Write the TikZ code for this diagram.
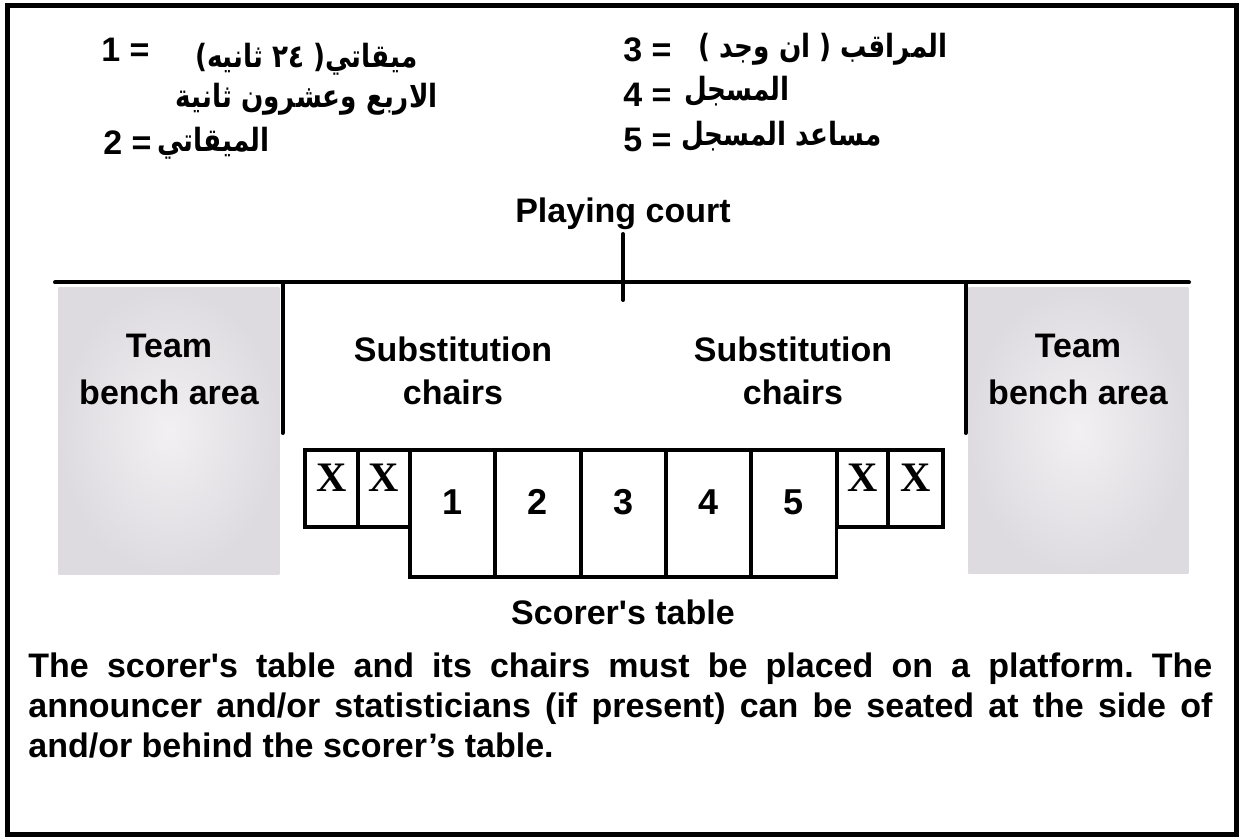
\documentclass[tikz,border=0pt]{standalone}
\usepackage{fontspec}
\setmainfont{Liberation Sans}
\newfontfamily\arabicfont[Script=Arabic,FakeStretch=0.82]{DejaVu Sans}
\newfontfamily\xserif{Liberation Serif}
\TeXXeTstate=1
\definecolor{benchout}{RGB}{222,219,224}
\definecolor{benchin}{RGB}{242,240,243}
\begin{document}
\begin{tikzpicture}[x=0.5pt,y=-0.5pt,
  lbl/.style={font=\fontsize{17}{20}\selectfont\bfseries, inner sep=0pt, anchor=base},
  legnum/.style={font=\fontsize{17}{20}\selectfont\bfseries, inner sep=0pt, anchor=base west},
  ar/.style={font=\arabicfont\bfseries\fontsize{16}{18}\selectfont, inner sep=0pt, anchor=base east},
  heavy/.style={line width=2pt, line cap=round},
  cell/.style={draw, line width=1.8pt, inner sep=0pt, fill=white},
  bench/.style={inner sep=0pt, draw=none, shading=radial, inner color=benchin, outer color=benchout, anchor=north west},
  para/.style={font=\fontsize{17}{20}\selectfont\bfseries\frenchspacing, inner sep=0pt, anchor=base west}]
\useasboundingbox (0,0) rectangle (1239,838);
\draw[line width=2.5pt] (7.5,5.5) rectangle (1236,835);

% legend
\node[legnum] (n1) at (101,62) {1 =};
\node[ar] (a1) at (418,68) {\beginR ميقاتي( ٢٤ ثانيه)\endR};
\node[ar] (a1b) at (438,108) {\beginR الاربع وعشرون ثانية\endR};
\node[legnum] (n2) at (103,155) {2 =};
\node[ar] (a2) at (270,152) {\beginR الميقاتي\endR};
\node[legnum] (n3) at (623,62) {3 =};
\node[ar] (a3) at (948,58) {\beginR المراقب ( ان وجد )\endR};
\node[legnum] (n4) at (623,107) {4 =};
\node[ar] (a4) at (790,101) {\beginR المسجل\endR};
\node[legnum] (n5) at (623,152) {5 =};
\node[ar] (a5) at (882,146) {\beginR مساعد المسجل\endR};

% court
\node[lbl] (court) at (623,223) {Playing court};
\coordinate (cl) at (55,282.5);
\coordinate (cr) at (1189,282.5);
\coordinate (ttop) at (623,234);
\coordinate (tbot) at (623,300);
\coordinate (lvt) at (282.5,282.5);
\coordinate (lvb) at (282.5,433);
\coordinate (rvt) at (965.5,282.5);
\coordinate (rvb) at (965.5,433);

\node[bench, minimum width=110.5pt, minimum height=143.5pt] (lbench) at (58,287) {};
\node[bench, minimum width=110pt, minimum height=143pt] (rbench) at (968,287) {};

\draw[heavy] (cl) -- (cr);
\draw[heavy] (ttop) -- (tbot);
\draw[heavy] (lvt) -- (lvb);
\draw[heavy] (rvt) -- (rvb);

\node[lbl] (lt1) at (169,358) {Team};
\node[lbl] (lt2) at (169,405) {bench area};
\node[lbl] (rt1) at (1078,358) {Team};
\node[lbl] (rt2) at (1078,405) {bench area};
\node[lbl] (ls1) at (453,362) {Substitution};
\node[lbl] (ls2) at (453,405) {chairs};
\node[lbl] (rs1) at (793,362) {Substitution};
\node[lbl] (rs2) at (793,405) {chairs};

% scorer's table
\node[cell, minimum width=26.5pt, minimum height=38.5pt] (xa) at (331.5,488.5) {};
\node[cell, minimum width=26pt, minimum height=38.5pt] (xb) at (384,488.5) {};
\node[cell, minimum width=25.5pt, minimum height=38.5pt] (xc) at (862.5,488.5) {};
\node[cell, minimum width=27.5pt, minimum height=38.5pt] (xd) at (915.5,488.5) {};
\foreach \i/\cx in {1/452.5,2/538,3/623.5,4/708.5,5/794}{
  \node[cell, minimum width=42.5pt, minimum height=63.5pt] (s\i) at (\cx,513.5) {};
  \node[lbl, font=\fontsize{18}{20}\selectfont\bfseries] (d\i) at (\cx,515) {\i};
}
\foreach \n in {xa,xb,xc,xd}{
  \node[inner sep=0pt, anchor=base, font=\xserif\fontsize{21}{22}\selectfont\bfseries] (l\n) at ([yshift=-1.5pt]\n.center) {X};
}
\node[lbl] (score) at (623,625) {Scorer\textquotesingle s table};

% paragraph
\node[para] (p1) at (28,678) {\makebox[592pt][s]{The scorer\textquotesingle s table and its chairs must be placed on a platform. The}};
\node[para] (p2) at (28,718) {\makebox[592pt][s]{announcer and/or statisticians (if present) can be seated at the side of}};
\node[para] (p3) at (28,758) {and/or behind the scorer’s table.};
\end{tikzpicture}
\end{document}
